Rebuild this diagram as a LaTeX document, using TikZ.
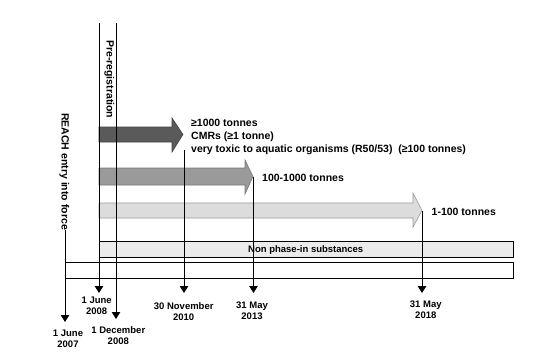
\documentclass[tikz,border=0pt]{standalone}
\usepackage{fontspec}
\setmainfont{Liberation Sans}
\usepackage{xcolor}
\definecolor{cDark}{HTML}{5A5A5A}
\definecolor{cDarkEdge}{HTML}{444444}
\definecolor{cMid}{HTML}{9A9A9A}
\definecolor{cMidEdge}{HTML}{777777}
\definecolor{cLight}{HTML}{DCDCDC}
\definecolor{cLightEdge}{HTML}{999999}
\definecolor{cBand}{HTML}{EBEBEB}
\usepackage{tikz}
\usetikzlibrary{arrows.meta}
\tikzset{
  band-dark/.style={draw=cDarkEdge,fill=cDark,line width=0.6pt},
  band-mid/.style={draw=cMidEdge,fill=cMid,line width=0.6pt},
  band-light/.style={draw=cLightEdge,fill=cLight,line width=0.6pt},
  band-box/.style={draw=black,line width=0.8pt},
  timeline/.style={-{Triangle[length=7pt,width=8.5pt]},line width=0.8pt,draw=black},
  date-label/.style={font=\fontsize{9.5}{10.5}\selectfont\bfseries,
    align=center,inner sep=0pt,anchor=base},
  band-label/.style={font=\fontsize{10.5}{13}\selectfont\bfseries,
    align=left,inner sep=0pt,anchor=base west},
  side-label/.style={font=\fontsize{10.5}{13}\selectfont\bfseries,
    inner sep=0pt,rotate=-90,anchor=base west},
}

\begin{document}
\begin{tikzpicture}[x=1pt,y=-1pt]
  \useasboundingbox (0,0) rectangle (556,359);

  % tonnage bands
  \draw[band-dark] (99,127) -- (172,127) -- (172,118) -- (183,134.5)
    -- (172,152) -- (172,142) -- (99,142) -- cycle;
  \draw[band-mid] (99,168) -- (245,168) -- (245,160) -- (253,176.5)
    -- (245,194) -- (245,185) -- (99,185) -- cycle;
  \draw[band-light] (99,203) -- (413,203) -- (413,193) -- (422,210.5)
    -- (413,227) -- (413,218) -- (99,218) -- cycle;
  \draw[band-box,fill=cBand] (99,241) rectangle (513,257);
  \draw[band-box] (65,262) rectangle (513,278);

  % base anchor of a multi-line node = last line
  \node[band-label] (lbl-a) at (191,152)
    {≥1000 tonnes\\CMRs (≥1 tonne)\\very toxic to aquatic organisms (R50/53)\ \ (≥100 tonnes)};
  \node[band-label] (lbl-b) at (262,181) {100-1000 tonnes};
  \node[band-label] (lbl-c) at (431.5,215) {1-100 tonnes};
  \node[band-label,font=\fontsize{9.5}{11}\selectfont\bfseries] (lbl-n)
    at (248,252.5) {Non phase-in substances};

  % side texts
  \node[side-label] (reach) at (61.5,113) {REACH entry into force};
  \node[side-label] (prereg) at (106.5,40) {Pre-registration};

  % dates
  \node[date-label] (d2007) at (68,347) {1 June\\2007};
  \node[date-label] (d2008a) at (96.7,314) {1 June\\2008};
  \node[date-label] (d2008b) at (118.3,344) {1 December\\2008};
  \node[date-label] (d2010) at (183.7,320) {30 November\\2010};
  \node[date-label] (d2013) at (252,319) {31 May\\2013};
  \node[date-label] (d2018) at (425.8,318) {31 May\\2018};

  \coordinate (pre-a) at (99,23);
  \coordinate (pre-b) at (116,23);
  \coordinate (band-a) at (184,150);
  \coordinate (band-b) at (253.5,176.5);
  \coordinate (band-c) at (422,210.5);
  \coordinate (tip2007) at (65,322);
  \coordinate (tip2008a) at (99,293);
  \coordinate (tip2008b) at (116,319);
  \coordinate (tip2010) at (184,293);
  \coordinate (tip2013) at (253.5,293);
  \coordinate (tip2018) at (422,293);

  % time lines
  \draw[timeline] (reach.east -| tip2007) -- (tip2007);
  \draw[timeline] (pre-a) -- (tip2008a);
  \draw[timeline] (pre-b) -- (tip2008b);
  \draw[timeline] (band-a) -- (tip2010);
  \draw[timeline] (band-b) -- (tip2013);
  \draw[timeline] (band-c) -- (tip2018);
\end{tikzpicture}
\end{document}
